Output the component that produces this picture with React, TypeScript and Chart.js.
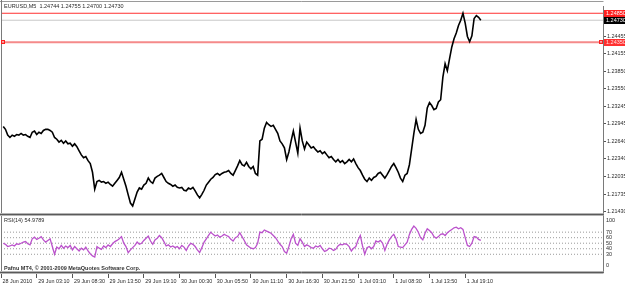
import React, { useEffect, useRef } from 'react';
import { Chart, registerables } from 'chart.js';

Chart.register(...registerables);

const SYMBOL_TITLE = 'EURUSD,M5  1.24744 1.24755 1.24700 1.24730';
const RSI_TITLE = 'RSI(14) 54.9789';
const COPYRIGHT = 'Pafnu MT4, © 2001-2009 MetaQuotes Software Corp.';

const TIME_LABELS = [
  '28 Jun 2010', '29 Jun 03:10', '29 Jun 08:30', '29 Jun 13:50', '29 Jun 19:10',
  '30 Jun 00:30', '30 Jun 05:50', '30 Jun 11:10', '30 Jun 16:30', '30 Jun 21:50',
  '1 Jul 03:10', '1 Jul 08:30', '1 Jul 13:50', '1 Jul 19:10',
];
const BARS_PER_LABEL = 64;
const FIRST_BAR = 4;
const BAR_STEP = 4;
const X_MAX = 1079;

// EURUSD M5 close, sampled every 4 bars
const PRICE_CLOSE = [
  1.2290, 1.2285, 1.2275, 1.2271, 1.2275, 1.2273, 1.2276, 1.2275, 1.2278, 1.2275,
  1.2276, 1.2273, 1.2271, 1.2280, 1.2282, 1.2276, 1.2280, 1.2278, 1.2283, 1.2285,
  1.2285, 1.2283, 1.2280, 1.2271, 1.2268, 1.2263, 1.2266, 1.2261, 1.2265, 1.2260,
  1.2261, 1.2256, 1.2260, 1.2255, 1.2248, 1.2241, 1.2236, 1.2238, 1.2231, 1.2226,
  1.2211, 1.2182, 1.2195, 1.2197, 1.2194, 1.2195, 1.2192, 1.2194, 1.2190, 1.2187,
  1.2192, 1.2197, 1.2202, 1.2211, 1.2199, 1.2187, 1.2172, 1.2158, 1.2153, 1.2165,
  1.2177, 1.2184, 1.2182, 1.2189, 1.2192, 1.2201, 1.2195, 1.2192, 1.2201, 1.2204,
  1.2206, 1.2209, 1.2202, 1.2195, 1.2192, 1.2190, 1.2187, 1.2189, 1.2185, 1.2184,
  1.2185, 1.2180, 1.2179, 1.2184, 1.2182, 1.2185, 1.2179, 1.2172, 1.2167, 1.2173,
  1.2180, 1.2189, 1.2194, 1.2199, 1.2202, 1.2207, 1.2209, 1.2206, 1.2209, 1.2211,
  1.2212, 1.2214, 1.2209, 1.2206, 1.2214, 1.2222, 1.2231, 1.2224, 1.2222, 1.2228,
  1.2221, 1.2217, 1.2221, 1.2209, 1.2206, 1.2265, 1.2268, 1.2287, 1.2297, 1.2293,
  1.2290, 1.2292, 1.2285, 1.2278, 1.2265, 1.2260, 1.2253, 1.2233, 1.2246, 1.2265,
  1.2282, 1.2263, 1.2244, 1.2287, 1.2265, 1.2251, 1.2263, 1.2258, 1.2253, 1.2255,
  1.2250, 1.2246, 1.2248, 1.2243, 1.2246, 1.2241, 1.2236, 1.2238, 1.2233, 1.2229,
  1.2233, 1.2228, 1.2231, 1.2226, 1.2229, 1.2233, 1.2229, 1.2234, 1.2226, 1.2219,
  1.2214, 1.2206, 1.2199, 1.2195, 1.2201, 1.2197, 1.2202, 1.2204, 1.2209, 1.2211,
  1.2206, 1.2201, 1.2207, 1.2214, 1.2221, 1.2226, 1.2219, 1.2211, 1.2201, 1.2195,
  1.2206, 1.2209, 1.2224, 1.2251, 1.2278, 1.2302, 1.2285, 1.2278, 1.2280, 1.2292,
  1.2322, 1.2331, 1.2326, 1.2319, 1.2321, 1.2332, 1.2336, 1.2375, 1.2398, 1.2386,
  1.2407, 1.2427, 1.2441, 1.2451, 1.2464, 1.2473, 1.2485, 1.2468, 1.2445, 1.2436,
  1.2446, 1.2476, 1.2481, 1.2478, 1.2473,
];

// RSI(14), same sampling
const RSI_VALUES = [
  50, 48, 44, 45, 47, 45, 49, 48, 50, 52,
  53, 49, 47, 58, 61, 57, 59, 62, 56, 52,
  55, 58, 44, 30, 43, 40, 46, 41, 45, 42,
  46, 38, 44, 40, 36, 41, 38, 43, 36, 31,
  27, 25, 44, 41, 39, 45, 42, 47, 44, 49,
  53, 55, 58, 62, 50, 44, 33, 38, 42, 46,
  52, 48, 50, 55, 59, 63, 54, 48, 56, 59,
  64, 60, 53, 45, 47, 43, 45, 42, 44, 40,
  46, 43, 37, 45, 50, 48, 44, 38, 33, 42,
  52, 58, 64, 70, 66, 63, 65, 61, 63, 66,
  64, 62, 57, 54, 60, 62, 69, 62, 55, 47,
  44, 41, 40, 42, 50, 70, 69, 74, 72, 70,
  68, 64, 60, 54, 48, 44, 35, 32, 44, 58,
  66, 50, 46, 58, 52, 44, 47, 45, 42, 41,
  45, 43, 46, 40, 35, 37, 41, 40, 37, 39,
  45, 48, 47, 49, 48, 44, 36, 41, 44, 56,
  64, 45, 30, 42, 44, 40, 44, 54, 52, 55,
  50, 37, 48, 56, 62, 66, 58, 44, 43, 42,
  47, 52, 66, 75, 81, 77, 70, 60, 56, 68,
  76, 73, 69, 62, 59, 62, 66, 67, 64, 69,
  72, 75, 78, 79, 76, 78, 75, 60, 46, 44,
  50, 62, 61, 57, 55,
];

const PRICE_TICKS = [1.24455, 1.24155, 1.2385, 1.2355, 1.23245, 1.22945, 1.2264, 1.2234, 1.22035, 1.21735, 1.2143];
const PRICE_MIN = 1.21413;
const PRICE_MAX = 1.24971;
const RSI_TICKS = [100, 70, 60, 50, 40, 30, 0];
const RSI_LEVELS = [70, 60, 50, 40, 30];
const RSI_MIN = -2.1;
const RSI_MAX = 105.2;

const HIGH_LINE = 1.2485;
const BID_LINE = 1.2473;
const USER_LINE = 1.2435;

const FONT = "'Liberation Sans', Arial, sans-serif";
const TEXT = '#2a2a2a';

const framePlugin = {
  id: 'mtFrame',
  beforeDraw(chart: any) {
    const { ctx, width, height } = chart;
    ctx.save();
    ctx.fillStyle = '#ffffff';
    ctx.fillRect(0, 0, width, height);
    ctx.restore();
  },
  afterDraw(chart: any) {
    const { ctx } = chart;
    const ca = chart.chartArea;
    const yS = chart.scales.y;
    const rS = chart.scales.yRsi;
    ctx.save();
    const hline = (y: number, x0: number, x1: number, c: string) => {
      ctx.strokeStyle = c; ctx.lineWidth = 1; ctx.beginPath(); ctx.moveTo(x0, y); ctx.lineTo(x1, y); ctx.stroke();
    };
    const vline = (x: number, y0: number, y1: number, c: string) => {
      ctx.strokeStyle = c; ctx.lineWidth = 1; ctx.beginPath(); ctx.moveTo(x, y0); ctx.lineTo(x, y1); ctx.stroke();
    };
    const right = ca.right + 0.5;
    hline(1.5, 0, right, '#9a9a9a');
    vline(1.5, 0, ca.bottom + 2, '#7a7a7a');
    const sep = Math.round(yS.bottom);
    hline(sep + 0.5, 0, right, '#b4b4b4');
    hline(sep + 1.5, 0, right, '#5a5a5a');
    hline(sep + 2.5, 0, right, '#b4b4b4');
    const bot = Math.round(ca.bottom);
    hline(bot - 0.5, 0, right, '#b4b4b4');
    hline(bot + 0.5, 0, right, '#5a5a5a');
    hline(bot + 1.5, 0, right, '#b4b4b4');

    ctx.textBaseline = 'middle';
    ctx.textAlign = 'left';
    ctx.fillStyle = TEXT;
    ctx.font = `5.5px ${FONT}`;
    ctx.fillText(SYMBOL_TITLE, 4, 6.5);
    ctx.fillText(RSI_TITLE, 4, rS.top + 8);
    ctx.font = `bold 5.5px ${FONT}`;
    ctx.fillStyle = '#333';
    ctx.fillText(COPYRIGHT, 4, bot - 3.5);

    // RSI edge labels (drawn inset like the terminal does)
    ctx.font = `5.5px ${FONT}`;
    ctx.fillStyle = TEXT;
    ctx.fillText('100', ca.right + 3, rS.getPixelForValue(100) + 5);
    ctx.fillText('0', ca.right + 3, rS.getPixelForValue(0) - 5);

    // price boxes on the axis
    const boxes: [number, string, string][] = [
      [HIGH_LINE, '#ff2020', '#ffffff'],
      [BID_LINE, '#000000', '#ffffff'],
      [USER_LINE, '#ff3030', '#ffe0e0'],
    ];
    for (const [v, bg, fg] of boxes) {
      const y = yS.getPixelForValue(v);
      ctx.fillStyle = bg;
      ctx.fillRect(ca.right + 1, Math.round(y - 3.5), 22, 7);
      ctx.fillStyle = fg;
      ctx.fillText(v.toFixed(5), ca.right + 3, y);
    }
    const uy = Math.round(yS.getPixelForValue(USER_LINE));
    ctx.strokeStyle = '#ff2020';
    ctx.lineWidth = 1;
    ctx.strokeRect(1.5, uy - 1.5, 3, 3);
    ctx.strokeRect(ca.right - 3.5, uy - 1.5, 3, 3);
    ctx.restore();
  },
};

export default function App() {
  const ref = useRef<HTMLCanvasElement | null>(null);

  useEffect(() => {
    if (!ref.current) return;
    const xOf = (i: number) => FIRST_BAR + BAR_STEP * i;
    const flat = (v: number) => [{ x: 0, y: v }, { x: X_MAX, y: v }];
    const chart = new Chart(ref.current, {
      type: 'line',
      data: {
        datasets: [
          {
            label: 'EURUSD',
            data: PRICE_CLOSE.map((v, i) => ({ x: xOf(i), y: v })),
            yAxisID: 'y',
            borderColor: '#000000',
            borderWidth: 1.6,
            pointRadius: 0,
            tension: 0,
          },
          {
            label: 'RSI(14)',
            data: RSI_VALUES.map((v, i) => ({ x: xOf(i), y: v })),
            yAxisID: 'yRsi',
            borderColor: '#bb52cc',
            borderWidth: 1.3,
            pointRadius: 0,
            tension: 0,
          },
          {
            label: 'high',
            data: flat(HIGH_LINE),
            yAxisID: 'y',
            borderColor: '#ff3030',
            borderWidth: 1,
            pointRadius: 0,
          },
          {
            label: 'bid',
            data: flat(BID_LINE),
            yAxisID: 'y',
            borderColor: '#c8c8c8',
            borderWidth: 1,
            pointRadius: 0,
          },
          {
            label: 'hline',
            data: flat(USER_LINE),
            yAxisID: 'y',
            borderColor: '#f58a8a',
            borderWidth: 2,
            pointRadius: 0,
          },
          ...RSI_LEVELS.map((lv) => ({
            label: 'level ' + lv,
            data: flat(lv),
            yAxisID: 'yRsi',
            borderColor: '#9a9a9a',
            borderWidth: 1,
            borderDash: [1, 2],
            pointRadius: 0,
          })),
        ],
      },
      options: {
        animation: false,
        responsive: false,
        maintainAspectRatio: false,
        layout: { padding: { left: 1, top: 3, right: 0, bottom: 0 } },
        plugins: { legend: { display: false }, tooltip: { enabled: false } },
        events: [],
        scales: {
          x: {
            type: 'linear',
            min: 0,
            max: X_MAX,
            afterBuildTicks: (s: any) => {
              s.ticks = TIME_LABELS.map((_, k) => ({ value: k * BARS_PER_LABEL }));
            },
            afterFit: (s: any) => { s.height = 13; },
            ticks: {
              autoSkip: false,
              maxRotation: 0,
              minRotation: 0,
              align: 'start',
              labelOffset: 1.5,
              padding: 0,
              color: TEXT,
              font: { size: 5.4, family: FONT },
              callback: (_v: any, i: number) => TIME_LABELS[i],
            },
            grid: { drawOnChartArea: false, drawTicks: true, tickLength: 6, color: '#555555' },
            border: { display: false },
          },
          y: {
            type: 'linear',
            axis: 'y',
            position: 'right',
            stack: 'panes',
            stackWeight: 209,
            weight: 0,
            min: PRICE_MIN,
            max: PRICE_MAX,
            afterBuildTicks: (s: any) => {
              s.ticks = PRICE_TICKS.map((v) => ({ value: v }));
            },
            afterFit: (s: any) => { s.width = 22; },
            ticks: {
              autoSkip: false,
              padding: 1,
              color: TEXT,
              font: { size: 5.4, family: FONT },
              callback: (v: any) => Number(v).toFixed(5),
            },
            grid: { drawOnChartArea: false, drawTicks: true, tickLength: 3, color: '#555555' },
            border: { display: true, color: '#7a7a7a' },
          },
          yRsi: {
            type: 'linear',
            axis: 'y',
            position: 'right',
            stack: 'panes',
            stackWeight: 60,
            weight: 1,
            min: RSI_MIN,
            max: RSI_MAX,
            afterBuildTicks: (s: any) => {
              s.ticks = RSI_TICKS.map((v) => ({ value: v }));
            },
            afterFit: (s: any) => { s.width = 22; },
            ticks: {
              autoSkip: false,
              padding: 3,
              color: TEXT,
              font: { size: 5.4, family: FONT },
              callback: (v: any) => (v === 100 || v === 0 ? '' : String(v)),
            },
            grid: { drawOnChartArea: false, drawTicks: false },
            border: { display: true, color: '#7a7a7a' },
          },
        },
      },
      plugins: [framePlugin],
    } as any);
    return () => chart.destroy();
  }, []);

  return (
    <div style={{ position: 'fixed', left: 0, top: 0, width: 625, height: 285, background: '#fff' }}>
      <canvas ref={ref} width={625} height={285} style={{ display: 'block' }} />
    </div>
  );
}
